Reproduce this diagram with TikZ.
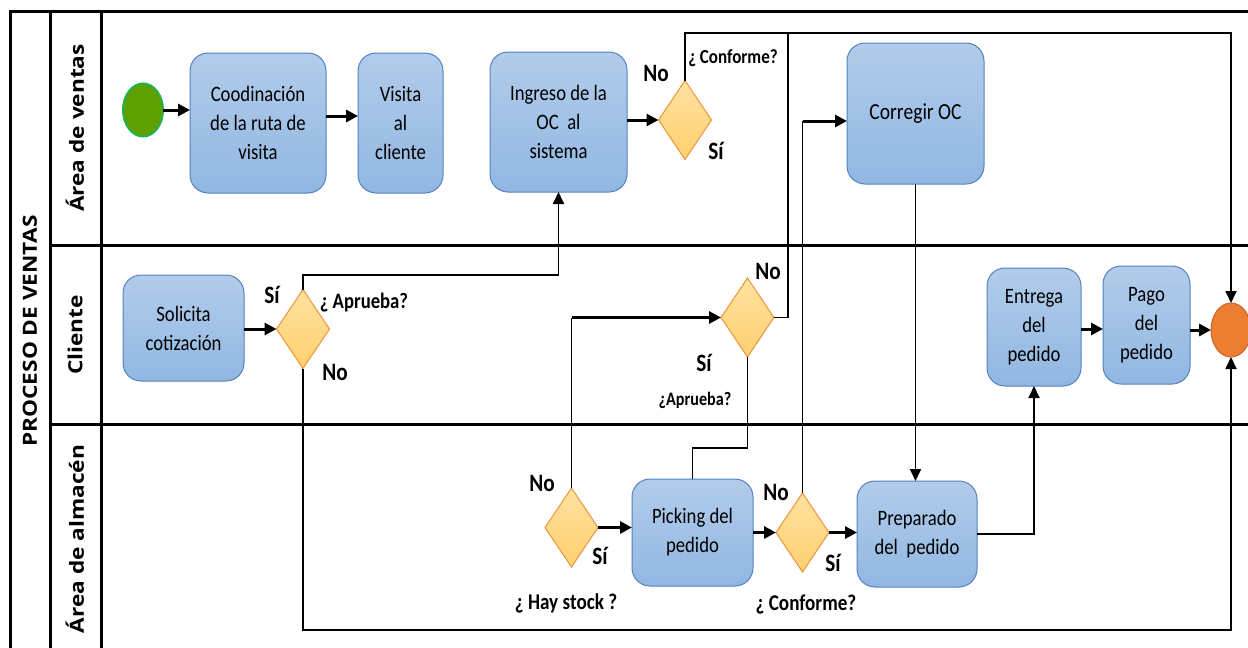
\documentclass[tikz,border=0pt]{standalone}
\usepackage{fontspec}
\setmainfont{Carlito}[FakeStretch=0.85]
\newfontfamily\lanefont{Open Sans}[FakeStretch=1.16]
\usetikzlibrary{shapes.geometric,arrows.meta,calc}
\definecolor{boxtop}{RGB}{178,204,234}
\definecolor{boxbot}{RGB}{145,183,226}
\definecolor{boxline}{RGB}{84,130,190}
\definecolor{gatetop}{RGB}{255,226,160}
\definecolor{gatebot}{RGB}{255,208,112}
\definecolor{gateline}{RGB}{237,148,58}
\definecolor{startfill}{RGB}{95,160,0}
\definecolor{startline}{RGB}{34,177,76}
\definecolor{endfill}{RGB}{237,125,49}
\definecolor{endline}{RGB}{200,100,40}
\begin{document}
\begin{tikzpicture}[x=1pt,y=-1pt,
  every node/.style={inner sep=0pt, outer sep=0pt},
  task/.style={draw=boxline, line width=1pt, rounded corners=18pt, top color=boxtop, bottom color=boxbot, align=center, font=\fontsize{22}{29}\selectfont},
  gate/.style={diamond, draw=gateline, line width=1pt, top color=gatetop, bottom color=gatebot, minimum width=53pt, minimum height=79pt},
  lbl/.style={font=\bfseries\fontsize{25}{25}\selectfont},
  qst/.style={font=\bfseries\fontsize{22.5}{23}\selectfont},
  lane/.style={rotate=90, font=\lanefont\bfseries\fontsize{19.5}{20}\selectfont},
  frame/.style={line width=3pt},
  conn/.style={line width=1.8pt},
  arr/.style={line width=3pt, -{Triangle[length=12pt,width=12pt]}},
  larr/.style={line width=1.8pt, -{Triangle[length=12pt,width=11pt]}},
]
\useasboundingbox[fill=white] (0,0) rectangle (1248,648);
% frame
\draw[frame] (10,648) -- (10,11) -- (1248,11);
\draw[frame] (50,11) -- (50,648);
\draw[frame] (101,11) -- (101,648);
\draw[frame] (50,245) -- (1248,245);
\draw[frame] (50,424) -- (1248,424);
\node[lane] (title) at (30,331) {PROCESO DE VENTAS};
\node[lane] (l1) at (75,128) {Área de ventas};
\node[lane] (l2) at (75,335) {Cliente};
\node[lane] (l3) at (75,539) {Área de almacén};
% nodes
\node[ellipse, draw=startline, line width=2pt, fill=startfill, minimum width=40pt, minimum height=53pt] (start) at (143,110) {};
\node[task, minimum width=136pt, minimum height=140pt] (coord) at (258,123) {Coodinación\\de la ruta de\\visita};
\node[task, minimum width=85pt, minimum height=140pt] (visita) at (400.5,123) {Visita\\al\\cliente};
\node[task, minimum width=137pt, minimum height=140pt] (ingreso) at (558.5,122) {Ingreso de la\\OC\ \ al\\sistema};
\node[gate] (d1) at (685,120) {};
\node[task, minimum width=137pt, minimum height=141pt, font=\fontsize{23}{29}\selectfont] (corregir) at (915.5,113.5) {Corregir OC};
\node[task, minimum width=121pt, minimum height=106pt] (solicita) at (183.5,328) {Solicita\\cotización};
\node[gate] (d2) at (303,329) {};
\node[gate] (d3) at (747.5,317.5) {};
\node[task, minimum width=94pt, minimum height=118pt] (entrega) at (1034,327) {Entrega\\del\\pedido};
\node[task, minimum width=87pt, minimum height=118pt] (pago) at (1146.5,325) {Pago\\del\\pedido};
\node[ellipse, draw=endline, line width=1pt, fill=endfill, minimum width=40pt, minimum height=54pt] (end) at (1231,330) {};
\node[gate] (d4) at (571.5,527.5) {};
\node[task, minimum width=121pt, minimum height=107pt] (picking) at (692.5,532.5) {Picking del\\pedido};
\node[gate] (d5) at (802.5,532.5) {};
\node[task, minimum width=120pt, minimum height=106pt] (preparado) at (917,534) {Preparado\\del\ \ pedido};
% labels
\node[lbl] (n1) at (656,73) {No};
\node[qst, font=\bfseries\fontsize{20}{20}\selectfont] (q1) at (733,58) {¿ Conforme?};
\node[lbl] (s1) at (716,151) {Sí};
\node[lbl] (s2) at (272,295) {Sí};
\node[qst, font=\bfseries\fontsize{22}{22}\selectfont] (q2) at (364,303) {¿ Aprueba?};
\node[lbl] (n2) at (335,372) {No};
\node[lbl] (n3) at (768,271) {No};
\node[lbl] (s3) at (704,363) {Sí};
\node[qst, font=\bfseries\fontsize{19}{19}\selectfont] (q3) at (695,400) {¿Aprueba?};
\node[lbl] (n4) at (542,483) {No};
\node[lbl] (s4) at (600,556) {Sí};
\node[qst] (q4) at (566,603) {¿ Hay stock ?};
\node[lbl] (n5) at (776,492) {No};
\node[lbl] (s5) at (833,563) {Sí};
\node[qst] (q5) at (806,605) {¿ Conforme?};
% helper coordinates
\coordinate (ytop) at (0,33);
\coordinate (ybot) at (0,630);
\coordinate (yapr) at (0,275);
\coordinate (xno3) at (788,0);
\coordinate (ypick) at (0,448);
\coordinate (ycor) at (0,121);
% connectors
\draw[arr] (start.east) -- (start.east -| coord.west);
\draw[arr] ([yshift=7pt]coord.east) -- ([yshift=7pt]coord.east -| visita.west);
\draw[arr] (d1.west -| ingreso.east) -- (d1.west);
\draw[larr] (d1.north) -- (d1.north |- ytop) -- (end.north |- ytop) -- (end.north);
\draw[conn] (d3.east) -- (d3.east -| xno3) -- (xno3 |- ytop);
\draw[conn] (d5.north) -- (d5.north |- ycor);
\draw[arr] (d5.north |- ycor) -- (ycor -| corregir.west);
\draw[larr] (corregir.south) -- (corregir.south |- preparado.north);
\draw[arr] (d2.west -| solicita.east) -- (d2.west);
\draw[larr] (d2.north) -- (d2.north |- yapr) -- (ingreso.south |- yapr) -- (ingreso.south);
\draw[larr] (d2.south) -- (d2.south |- ybot) -- (end.south |- ybot) -- (end.south);
\draw[conn] (d4.north) -- (d4.north |- d3.west);
\draw[arr] (d4.north |- d3.west) -- (d3.west);
\draw[arr] (d4.east) -- (d4.east -| picking.west);
\draw[conn] (picking.north) -- (picking.north |- ypick) -- (d3.south |- ypick) -- (d3.south);
\draw[arr] (d5.west -| picking.east) -- (d5.west);
\draw[arr] (d5.east) -- (d5.east -| preparado.west);
\draw[larr] (preparado.east) -- (preparado.east -| entrega.south) -- (entrega.south);
\draw[arr] ([yshift=-2pt]entrega.east) -- ([yshift=-2pt]entrega.east -| pago.west);
\draw[arr] (end.west -| pago.east) -- (end.west);
\end{tikzpicture}
\end{document}
